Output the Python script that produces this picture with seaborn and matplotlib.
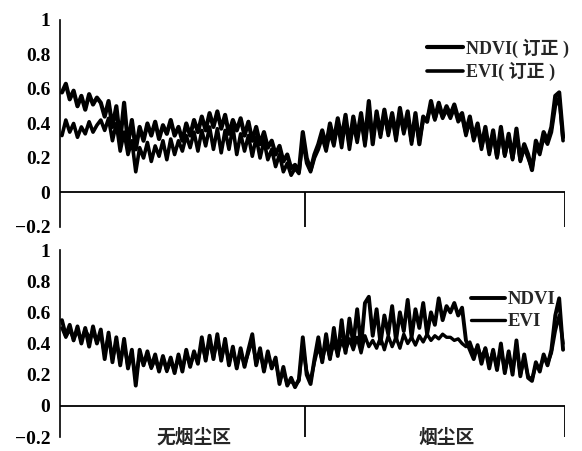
import numpy as np
import pandas as pd
import matplotlib
matplotlib.use("Agg")
import matplotlib.pyplot as plt
import seaborn as sns

# ---------------- data ----------------
categories = ["无烟尘区", "烟尘区"]
n_samples = [63, 67]          # samples in each zone

ndvi_corr = [0.58, 0.63, 0.54, 0.59, 0.50, 0.56, 0.48, 0.57, 0.51, 0.55,
             0.52, 0.44, 0.53, 0.38, 0.50, 0.30, 0.52, 0.28, 0.42, 0.25,
             0.38, 0.30, 0.40, 0.33, 0.41, 0.31, 0.39, 0.34, 0.42, 0.33,
             0.38, 0.30, 0.40, 0.33, 0.42, 0.35, 0.44, 0.36, 0.46, 0.38,
             0.47, 0.37, 0.45, 0.34, 0.42, 0.36, 0.43, 0.33, 0.41, 0.30,
             0.38, 0.28, 0.35, 0.26, 0.30, 0.22, 0.27, 0.18, 0.22, 0.14,
             0.16, 0.12, 0.35, 0.20, 0.13, 0.22, 0.28, 0.36, 0.27, 0.40,
             0.30, 0.43, 0.31, 0.45, 0.28, 0.44, 0.32, 0.46, 0.30, 0.53,
             0.28, 0.47, 0.34, 0.48, 0.35, 0.46, 0.33, 0.49, 0.36, 0.47,
             0.30, 0.46, 0.28, 0.44, 0.41, 0.53, 0.43, 0.52, 0.44, 0.50,
             0.45, 0.51, 0.43, 0.46, 0.35, 0.44, 0.32, 0.40, 0.27, 0.38,
             0.24, 0.36, 0.21, 0.38, 0.22, 0.34, 0.20, 0.37, 0.19, 0.28,
             0.22, 0.13, 0.30, 0.24, 0.35, 0.30, 0.38, 0.56, 0.58, 0.32]

evi_corr = [0.33, 0.42, 0.35, 0.40, 0.32, 0.38, 0.34, 0.41, 0.35, 0.39,
            0.42, 0.36, 0.43, 0.30, 0.40, 0.24, 0.35, 0.22, 0.30, 0.12,
            0.26, 0.20, 0.29, 0.18, 0.27, 0.21, 0.30, 0.19, 0.31, 0.22,
            0.30, 0.24, 0.33, 0.26, 0.35, 0.24, 0.36, 0.27, 0.38, 0.25,
            0.37, 0.23, 0.36, 0.25, 0.38, 0.22, 0.34, 0.24, 0.33, 0.21,
            0.32, 0.20, 0.30, 0.19, 0.25, 0.15, 0.22, 0.12, 0.17, 0.10,
            0.14, 0.11, 0.30, 0.17, 0.12, 0.20, 0.25, 0.32, 0.24, 0.35,
            0.27, 0.40, 0.26, 0.42, 0.25, 0.40, 0.29, 0.43, 0.27, 0.45,
            0.31, 0.45, 0.32, 0.46, 0.33, 0.44, 0.30, 0.46, 0.34, 0.44,
            0.28, 0.43, 0.30, 0.42, 0.43, 0.50, 0.42, 0.50, 0.43, 0.48,
            0.43, 0.49, 0.41, 0.44, 0.33, 0.42, 0.30, 0.38, 0.25, 0.36,
            0.22, 0.34, 0.20, 0.35, 0.21, 0.32, 0.19, 0.34, 0.18, 0.26,
            0.20, 0.14, 0.27, 0.22, 0.32, 0.28, 0.35, 0.50, 0.55, 0.30]

ndvi_raw = [0.55, 0.45, 0.52, 0.42, 0.51, 0.40, 0.50, 0.38, 0.51, 0.40,
            0.49, 0.30, 0.47, 0.28, 0.44, 0.26, 0.43, 0.24, 0.36, 0.13,
            0.36, 0.26, 0.35, 0.25, 0.33, 0.22, 0.32, 0.23, 0.31, 0.21,
            0.33, 0.22, 0.36, 0.25, 0.35, 0.27, 0.44, 0.29, 0.45, 0.30,
            0.46, 0.29, 0.43, 0.26, 0.38, 0.24, 0.37, 0.25, 0.36, 0.46,
            0.26, 0.37, 0.22, 0.35, 0.24, 0.31, 0.14, 0.25, 0.13, 0.18,
            0.12, 0.17, 0.44, 0.20, 0.14, 0.30, 0.44, 0.28, 0.46, 0.30,
            0.50, 0.32, 0.55, 0.34, 0.56, 0.40, 0.62, 0.38, 0.66, 0.70,
            0.45, 0.62, 0.40, 0.58, 0.46, 0.64, 0.42, 0.60, 0.48, 0.68,
            0.44, 0.62, 0.50, 0.66, 0.46, 0.60, 0.52, 0.69, 0.55, 0.64,
            0.60, 0.66, 0.58, 0.63, 0.42, 0.36, 0.30, 0.39, 0.27, 0.37,
            0.24, 0.36, 0.23, 0.40, 0.21, 0.35, 0.20, 0.42, 0.19, 0.33,
            0.18, 0.16, 0.28, 0.22, 0.33, 0.26, 0.36, 0.58, 0.69, 0.36]

evi_raw = [0.50, 0.44, 0.49, 0.43, 0.48, 0.42, 0.49, 0.44, 0.47, 0.41,
           0.46, 0.33, 0.45, 0.30, 0.41, 0.28, 0.40, 0.25, 0.33, 0.18,
           0.33, 0.27, 0.32, 0.24, 0.30, 0.23, 0.31, 0.22, 0.29, 0.22,
           0.31, 0.24, 0.34, 0.26, 0.33, 0.29, 0.40, 0.30, 0.42, 0.31,
           0.42, 0.30, 0.40, 0.28, 0.36, 0.25, 0.35, 0.26, 0.34, 0.42,
           0.27, 0.35, 0.23, 0.33, 0.25, 0.29, 0.16, 0.22, 0.14, 0.16,
           0.13, 0.16, 0.38, 0.22, 0.16, 0.28, 0.38, 0.29, 0.40, 0.31,
           0.40, 0.33, 0.42, 0.35, 0.43, 0.36, 0.44, 0.34, 0.45, 0.38,
           0.42, 0.37, 0.44, 0.36, 0.45, 0.38, 0.44, 0.37, 0.46, 0.40,
           0.44, 0.39, 0.45, 0.41, 0.46, 0.42, 0.45, 0.43, 0.46, 0.44,
           0.44, 0.42, 0.43, 0.40, 0.38, 0.41, 0.34, 0.38, 0.31, 0.37,
           0.27, 0.35, 0.24, 0.37, 0.22, 0.33, 0.22, 0.38, 0.20, 0.30,
           0.19, 0.17, 0.26, 0.24, 0.31, 0.27, 0.34, 0.48, 0.58, 0.40]

y_ticks = [-0.2, 0.0, 0.2, 0.4, 0.6, 0.8, 1.0]
y_tick_labels = ["\u22120.2", "0", "0.2", "0.4", "0.6", "0.8", "1"]
top_labels = ["NDVI( 订正 )", "EVI( 订正 )"]
bottom_labels = ["NDVI", "EVI"]

# ---------------- figure ----------------
sns.set_style("white")
plt.rcParams["font.family"] = ["Liberation Serif", "Noto Sans CJK SC"]

N = sum(n_samples)
df = pd.DataFrame({
    "x": np.arange(N) + 0.5,
    "ndvi_c": ndvi_corr, "evi_c": evi_corr,
    "ndvi": ndvi_raw, "evi": evi_raw,
})
bounds = np.cumsum(n_samples)
starts = np.concatenate([[0], bounds[:-1]])

fig = plt.figure(figsize=(5.82, 4.51), dpi=100)
ax_top = fig.add_axes([0.1031, 0.4967, 0.8677, 0.459])
ax_bot = fig.add_axes([0.1031, 0.031, 0.8677, 0.4146])

def style(ax):
    ax.set_xlim(0, N)
    ax.set_ylim(-0.2, 1.0)
    for s in ["top", "right", "bottom"]:
        ax.spines[s].set_visible(False)
    ax.spines["left"].set_color("black")
    ax.spines["left"].set_linewidth(1.2)
    ax.set_yticks(y_ticks)
    ax.set_yticklabels(y_tick_labels, fontsize=14, fontweight="bold")
    ax.tick_params(axis="y", direction="in", length=7, width=1.1, colors="black", pad=7)
    ax.set_xticks([])
    ax.set_xlabel("")
    ax.set_ylabel("")
    ax.axhline(0, color="black", lw=1.3, zorder=1)
    ax.vlines(bounds, -0.2, 0, color="black", lw=1.3)

sns.lineplot(data=df, x="x", y="ndvi_c", ax=ax_top, color="black", lw=3.0,
             label=top_labels[0])
sns.lineplot(data=df, x="x", y="evi_c", ax=ax_top, color="black", lw=2.6,
             label=top_labels[1])
style(ax_top)
ax_top.legend(loc="upper right", bbox_to_anchor=(1.04, 0.99), frameon=False,
              handlelength=2.0, handletextpad=0.15, labelspacing=0.25,
              prop={"weight": "bold", "size": 13})

sns.lineplot(data=df, x="x", y="ndvi", ax=ax_bot, color="black", lw=2.8,
             label=bottom_labels[0])
sns.lineplot(data=df, x="x", y="evi", ax=ax_bot, color="black", lw=2.4,
             label=bottom_labels[1])
style(ax_bot)
ax_bot.legend(loc="upper right", bbox_to_anchor=(1.015, 0.87), frameon=False,
              handlelength=1.8, handletextpad=0.15, labelspacing=0.25,
              prop={"weight": "bold", "size": 13.5})

for name, s, e in zip(categories, starts, bounds):
    ax_bot.text((s + e) / 2 + 3, -0.2, name, ha="center", va="center",
                fontsize=13.5, fontweight="bold",
                family=["Noto Sans CJK SC", "DejaVu Sans"])

fig.savefig("out.png", dpi=100)
